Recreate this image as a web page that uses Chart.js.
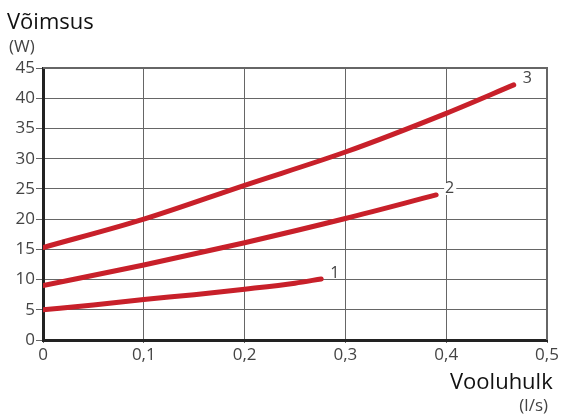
<!DOCTYPE html>
<html>
<head>
<meta charset="utf-8">
<script src="https://cdn.jsdelivr.net/npm/chart.js@4/dist/chart.umd.min.js"></script>
<style>
  html, body { margin: 0; padding: 0; background: #fff; }
  #wrap { position: relative; width: 562px; height: 414px; }
</style>
</head>
<body>
<div id="wrap"><canvas id="pumpChart" width="562" height="414"></canvas></div>
<script>
// flow (l/s) and power (W)
const flow1 = [0, 0.05, 0.1, 0.15, 0.2, 0.25, 0.276]
const power1 = [5, 5.8, 6.7, 7.5, 8.4, 9.4, 10.1]
const flow2 = [0, 0.1, 0.2, 0.3, 0.39]
const power2 = [9, 12.4, 16.1, 20.1, 24]
const flow3 = [0, 0.1, 0.2, 0.3, 0.4, 0.467]
const power3 = [15.3, 20, 25.6, 31.1, 37.5, 42.2]
const curveNames = ['1', '2', '3']

const red = '#c8202a'
const font = "'Open Sans', sans-serif"

const toPoints = (xs, ys) => xs.map((x, i) => ({ x, y: ys[i] }))

const curveLabels = {
  id: 'curveLabels',
  afterDatasetsDraw(chart) {
    const { ctx, scales: { x, y } } = chart
    ctx.save()
    ctx.font = `16px ${font}`
    ctx.textBaseline = 'middle'
    ctx.textAlign = 'left'
    chart.data.datasets.forEach(ds => {
      const last = ds.data[ds.data.length - 1]
      const px = x.getPixelForValue(last.x) + 9
      const py = y.getPixelForValue(last.y) - 6
      const w = ctx.measureText(ds.label).width
      ctx.fillStyle = '#fff'
      ctx.fillRect(px - 1, py - 6, w + 3, 12)
      ctx.fillStyle = '#444'
      ctx.fillText(ds.label, px, py)
    })
    ctx.restore()
  }
}

const titles = {
  id: 'titles',
  afterDraw(chart) {
    const { ctx, chartArea } = chart
    ctx.save()
    ctx.textBaseline = 'alphabetic'
    ctx.textAlign = 'left'
    ctx.fillStyle = '#111'
    ctx.font = `22px ${font}`
    ctx.fillText('Võimsus', 7, 29)
    ctx.fillStyle = '#444'
    ctx.font = `17px ${font}`
    ctx.fillText('(W)', 9, 52)
    ctx.fillStyle = '#111'
    ctx.font = `22px ${font}`
    ctx.fillText('Vooluhulk', 450, 389)
    ctx.fillStyle = '#444'
    ctx.font = `17px ${font}`
    ctx.textAlign = 'right'
    ctx.fillText('(l/s)', 548, 411)
    // top and right frame
    ctx.strokeStyle = '#666'
    ctx.lineWidth = 2
    ctx.beginPath()
    ctx.moveTo(chartArea.left, chartArea.top)
    ctx.lineTo(chartArea.right, chartArea.top)
    ctx.lineTo(chartArea.right, chartArea.bottom)
    ctx.stroke()
    ctx.restore()
  }
}

new Chart(document.getElementById('pumpChart'), {
  type: 'line',
  data: {
    datasets: [
      { label: curveNames[0], data: toPoints(flow1, power1) },
      { label: curveNames[1], data: toPoints(flow2, power2) },
      { label: curveNames[2], data: toPoints(flow3, power3) }
    ].map(d => ({
      ...d,
      borderColor: red,
      borderWidth: 5,
      borderCapStyle: 'round',
      cubicInterpolationMode: 'monotone',
      pointRadius: 0,
      fill: false
    }))
  },
  options: {
    responsive: false,
    animation: false,
    events: [],
    layout: { padding: { top: 68, right: 15, left: 0, bottom: 0 } },
    plugins: { legend: { display: false }, tooltip: { enabled: false } },
    scales: {
      x: {
        type: 'linear',
        min: 0,
        max: 0.5,
        afterFit: s => { s.height = 74 },
        border: { color: '#222', width: 3 },
        grid: { color: '#666', lineWidth: 1, tickLength: 3, tickColor: '#666' },
        ticks: {
          stepSize: 0.1,
          padding: 2,
          color: '#444',
          font: { family: font, size: 17 },
          callback: v => v === 0 ? '0' : v.toFixed(1).replace('.', ',')
        }
      },
      y: {
        min: 0,
        max: 45,
        afterFit: s => { s.width = 43 },
        border: { color: '#222', width: 3 },
        grid: { color: '#666', lineWidth: 1, tickLength: 7, tickColor: '#666' },
        ticks: {
          stepSize: 5,
          padding: 1,
          color: '#444',
          font: { family: font, size: 17 }
        }
      }
    }
  },
  plugins: [curveLabels, titles]
})
</script>
</body>
</html>
